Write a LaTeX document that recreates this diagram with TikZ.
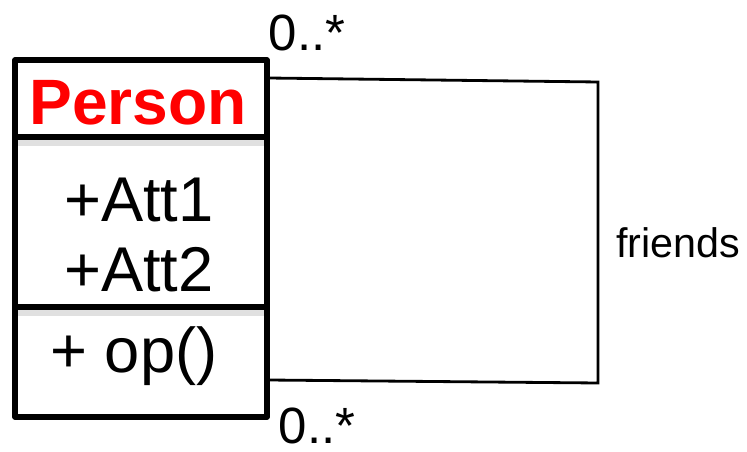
\documentclass[tikz,border=0pt]{standalone}
\usepackage{fontspec}
\setmainfont{Liberation Sans}
\tikzset{
  boxline/.style={line width=3pt, line join=round},
  assocline/.style={line width=1.6pt},
  mult/.style={font=\fontsize{29}{34}\selectfont, inner sep=0pt},
  member/.style={font=\fontsize{36}{42}\selectfont, inner sep=0pt},
}
\begin{document}
\begin{tikzpicture}[x=0.02cm, y=-0.02cm]
            \useasboundingbox (0,0) rectangle (747,452);
            % class box
            \fill[black!12] (17,139) rectangle (266,146);
            \fill[black!12] (17,309) rectangle (266,316);
            \draw[boxline] (15,60) rectangle (267,417);
            \draw[boxline] (15,137) -- (267,137);
            \draw[boxline] (15,307) -- (267,307);
            \node[font=\bfseries\fontsize{36.5}{42}\selectfont, text=red, inner sep=0pt] (name) at (138,103) {Person};
            \node[member] (att1) at (139,200) {+Att1};
            \node[member] (att2) at (139,270) {+Att2};
            \node[member] (op) at (134,356) {+ op()};
            % self association
            \coordinate (top) at (268,78);
            \coordinate (ne) at (598,82);
            \coordinate (se) at (598,383);
            \coordinate (bot) at (268,380);
            \draw[assocline] (top) -- (ne) -- (se) -- (bot);
            \node[font=\fontsize{23.5}{28}\selectfont, anchor=west, inner sep=0pt] (role) at (616,243) {friends};
            \node[mult] (multtop) at (307,33) {0..*};
            \node[mult] (multbot) at (317,426) {0..*};
        \end{tikzpicture}
\end{document}
